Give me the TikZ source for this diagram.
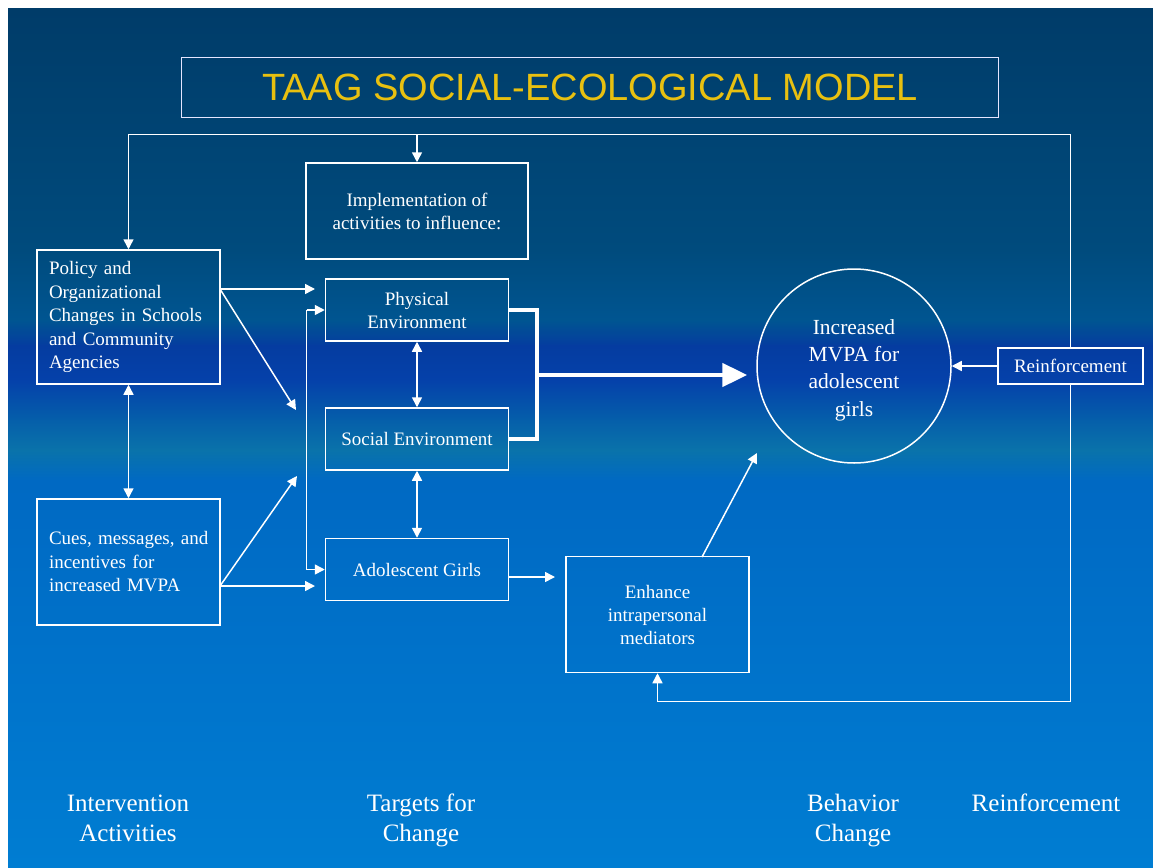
\documentclass[tikz,border=0pt]{standalone}
\usepackage{fontspec}
\setmainfont{Liberation Serif}
\newfontfamily\titlefont{Liberation Sans}
\usetikzlibrary{arrows.meta}

% background bands, top to bottom
\definecolor{bgA}{RGB}{0,60,105}
\definecolor{bgB}{RGB}{0,75,125}
\definecolor{bgC}{RGB}{0,85,145}
\definecolor{bgD}{RGB}{5,60,160}
\definecolor{bgE}{RGB}{5,65,170}
\definecolor{bgF}{RGB}{5,95,170}
\definecolor{bgG}{RGB}{10,115,170}
\definecolor{bgH}{RGB}{0,105,195}
\definecolor{bgI}{RGB}{0,125,210}
\definecolor{titleyellow}{RGB}{232,192,16}

\tikzset{
  box/.style={draw=white, line width=1.5pt, inner sep=0pt, align=center,
    text=white, font=\fontsize{19}{23}\selectfont},
  leftbox/.style={box, align=left, inner xsep=12pt, font=\fontsize{19}{23.5}\selectfont},
  link/.style={draw=white, line width=1.5pt},
  arr/.style={link, -{Triangle[length=10pt,width=10pt]}},
  darr/.style={link, {Triangle[length=10pt,width=10pt]}-{Triangle[length=10pt,width=10pt]}},
  bigarr/.style={draw=white, line width=4.7pt, -{Triangle[length=25pt,width=23pt]}},
  caption/.style={text=white, align=center, font=\fontsize{25}{30}\selectfont},
}

\begin{document}
\begin{tikzpicture}[x=1pt,y=-1pt]
\useasboundingbox (0,0) rectangle (1153,867);
\fill[white] (0,0) rectangle (1153,867);

% graded backdrop
\shade[top color=bgA, bottom color=bgB] (8,9) rectangle (1153,251);
\shade[top color=bgB, bottom color=bgC] (8,250) rectangle (1153,321);
\shade[top color=bgC, bottom color=bgD] (8,320) rectangle (1153,346);
\shade[top color=bgD, bottom color=bgE] (8,345) rectangle (1153,381);
\shade[top color=bgE, bottom color=bgF] (8,380) rectangle (1153,421);
\shade[top color=bgF, bottom color=bgG] (8,420) rectangle (1153,451);
\shade[top color=bgG, bottom color=bgH] (8,450) rectangle (1153,481);
\shade[top color=bgH, bottom color=bgI] (8,480) rectangle (1153,867);

% title
\node[draw=white!90!blue, line width=1.5pt, minimum width=817pt, minimum height=60pt,
  text=titleyellow, font=\titlefont\fontsize{38}{44}\selectfont]
  (title) at (590,87.5) {TAAG SOCIAL-ECOLOGICAL MODEL};

% boxes
\node[box, minimum width=222pt, minimum height=96pt] (impl) at (417,211)
  {Implementation of\\activities to influence:};
\node[leftbox, text width=159pt, minimum height=134pt] (policy) at (128.5,317)
  {Policy and\\Organizational\\Changes in Schools\\and Community\\Agencies};
\node[leftbox, text width=159pt, minimum height=126pt] (cues) at (128.5,562)
  {\mbox{Cues, messages, and}\\incentives for\\increased MVPA};
\node[box, minimum width=183pt, minimum height=62pt] (phys) at (417,310)
  {Physical\\Environment};
\node[box, minimum width=183pt, minimum height=62pt] (soc) at (417,439)
  {Social Environment};
\node[box, minimum width=183pt, minimum height=62pt] (adol) at (417,569.5)
  {Adolescent Girls};
\node[box, minimum width=183pt, minimum height=116pt] (enh) at (657.5,614.5)
  {Enhance\\intrapersonal\\mediators};
\node[box, circle, minimum size=194pt] (mvpa) at (854,366) {};
\node[text=white, align=center, font=\fontsize{21.5}{27.3}\selectfont] (mvpatext) at (854,370)
  {Increased\\MVPA for\\adolescent\\girls};
\node[box, minimum width=145pt, minimum height=36pt] (reinf) at (1070.5,366)
  {Reinforcement};

% feedback loop around the model
\coordinate (tl) at (128.5,134.5);
\coordinate (tr) at (1070.5,134.5);
\coordinate (br) at (1070.5,701.5);
\coordinate (bl) at (657.5,701.5);
\draw[arr] (reinf.north) -- (tr) -- (tl) -- (policy.north);
\draw[arr] (impl.north |- tl) -- (impl.north);
\draw[arr] (reinf.south) -- (br) -- (bl) -- (enh.south);
\draw[arr] (reinf.west) -- (mvpa.east);

% intervention activities to targets
\coordinate (pout) at (220,289);
\coordinate (pto) at (315,289);
\coordinate (pdiag) at (296,410);
\coordinate (cout) at (220,586);
\coordinate (cto) at (315,586);
\coordinate (cdiag) at (297,476);
\draw[arr] (pout) -- (pto);
\draw[arr] (pout) -- (pdiag);
\draw[arr] (cout) -- (cto);
\draw[arr] (cout) -- (cdiag);
\draw[darr] (policy.south) -- (cues.north);

% feeder bar on the left of the targets
\coordinate (ftop) at (306.5,310);
\coordinate (fbot) at (306.5,569.5);
\draw[arr] (ftop) -- (phys.west);
\draw[arr] (ftop) -- (fbot) -- (adol.west);

% links between targets
\draw[darr] (phys.south) -- (soc.north);
\draw[darr] (soc.south) -- (adol.north);

% environments combined into the main arrow
\coordinate (jn) at (537,375);
\draw[draw=white, line width=4.7pt, line join=miter] (phys.east) -| (jn |- soc.east) -- (soc.east);
\draw[bigarr, shorten >=9pt] (jn) -- (jn -| mvpa.west);

% individual pathway
\coordinate (aout) at (508.5,577);
\coordinate (ato) at (555,577);
\draw[arr] (aout) -- (ato);
\coordinate (eout) at (702,557);
\coordinate (eto) at (757,453);
\draw[arr] (eout) -- (eto);

% column captions
\node[caption] (capA) at (128,818) {Intervention\\Activities};
\node[caption] (capB) at (421,820) {Targets for\\Change};
\node[caption] (capC) at (853,821) {Behavior\\Change};
\node[caption] (capD) at (1046,803) {Reinforcement};
\end{tikzpicture}
\end{document}
